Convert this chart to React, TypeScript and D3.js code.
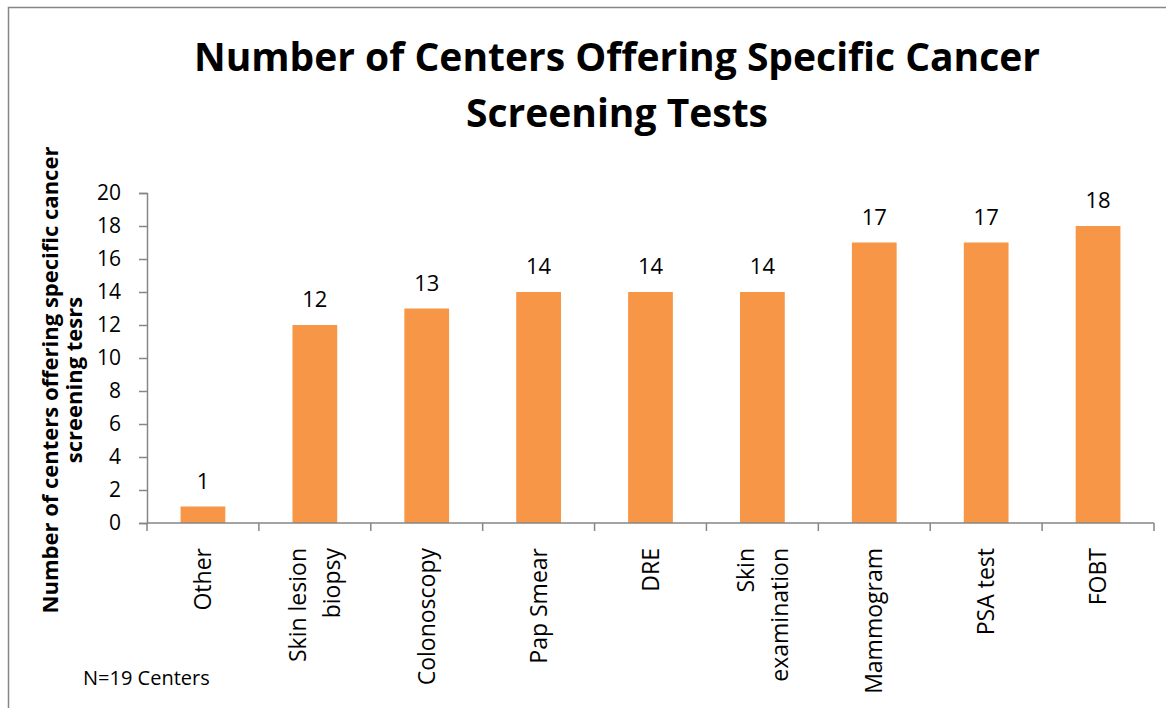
import { useEffect, useRef } from 'react'
import * as d3 from 'd3'

const categories = [
  'Other',
  'Skin lesion biopsy',
  'Colonoscopy',
  'Pap Smear',
  'DRE',
  'Skin examination',
  'Mammogram',
  'PSA test',
  'FOBT',
]
// how the category names wrap under the axis
const categoryLines = [
  ['Other'],
  ['Skin lesion', 'biopsy'],
  ['Colonoscopy'],
  ['Pap Smear'],
  ['DRE'],
  ['Skin', 'examination'],
  ['Mammogram'],
  ['PSA test'],
  ['FOBT'],
]
const centerCounts = [1, 12, 13, 14, 14, 14, 17, 17, 18]
const yTickValues = [0, 2, 4, 6, 8, 10, 12, 14, 16, 18, 20]

const titleLines = ['Number of Centers Offering Specific Cancer', 'Screening Tests']
const yTitleLines = ['Number of centers offering specific cancer', 'screening tesrs']
const noteText = 'N=19 Centers'

const WIDTH = 1166
const HEIGHT = 708
const FONT = "'Open Sans', 'DejaVu Sans', sans-serif"

export default function App() {
  const svgRef = useRef<SVGSVGElement>(null)

  useEffect(() => {
    if (!svgRef.current) return
    const svg = d3.select(svgRef.current)
    svg.selectAll('*').remove()

    const plot = { left: 147, right: 1154, top: 193, bottom: 523 }
    const axisColor = '#868686'

    // chart frame
    svg.append('rect')
      .attr('x', 8.5)
      .attr('y', 7.5)
      .attr('width', WIDTH)
      .attr('height', HEIGHT)
      .attr('fill', 'white')
      .attr('stroke', axisColor)
      .attr('stroke-width', 1.5)

    const xScale = d3.scaleBand<string>()
      .domain(categories)
      .range([plot.left, plot.right])
      .paddingInner(0.6)
      .paddingOuter(0.3)

    const yScale = d3.scaleLinear()
      .domain([0, 20])
      .range([plot.bottom, plot.top])

    // title
    svg.append('text')
      .attr('x', 617)
      .attr('y', 71)
      .attr('text-anchor', 'middle')
      .attr('font-family', FONT)
      .attr('font-weight', 700)
      .attr('font-size', 39)
      .attr('fill', '#000')
      .selectAll('tspan')
      .data(titleLines)
      .join('tspan')
      .attr('x', 617)
      .attr('dy', (_, i) => (i === 0 ? 0 : 56))
      .text(d => d)

    // bars
    svg.append('g')
      .selectAll('rect')
      .data(categories)
      .join('rect')
      .attr('x', d => xScale(d)!)
      .attr('y', (_, i) => yScale(centerCounts[i]))
      .attr('width', xScale.bandwidth())
      .attr('height', (_, i) => yScale(0) - yScale(centerCounts[i]))
      .attr('fill', '#F79646')

    // value labels
    svg.append('g')
      .selectAll('text')
      .data(categories)
      .join('text')
      .attr('x', d => xScale(d)! + xScale.bandwidth() / 2)
      .attr('y', (_, i) => yScale(centerCounts[i]) - 18)
      .attr('text-anchor', 'middle')
      .attr('font-family', FONT)
      .attr('font-size', 22)
      .attr('fill', '#000')
      .text((_, i) => String(centerCounts[i]))

    // y axis
    const yAxis = d3.axisLeft(yScale)
      .tickValues(yTickValues)
      .tickSize(8)
      .tickSizeOuter(8)
      .tickPadding(18)
    const yAxisG = svg.append('g')
      .attr('transform', `translate(${plot.left},0)`)
      .call(yAxis)
    yAxisG.selectAll('path, line').attr('stroke', axisColor).attr('stroke-width', 1.5)
    yAxisG.selectAll('text')
      .attr('font-family', FONT)
      .attr('font-size', 21)
      .attr('fill', '#000')

    // x axis line and category boundary ticks
    const step = xScale.step()
    const firstEdge = xScale(categories[0])! - step * 0.3
    const edges = d3.range(categories.length + 1).map(i => firstEdge + i * step)
    const xAxisG = svg.append('g')
    xAxisG.append('line')
      .attr('x1', plot.left)
      .attr('x2', plot.right)
      .attr('y1', plot.bottom)
      .attr('y2', plot.bottom)
      .attr('stroke', axisColor)
      .attr('stroke-width', 1.5)
    xAxisG.selectAll('line.tick')
      .data(edges)
      .join('line')
      .attr('class', 'tick')
      .attr('x1', d => d)
      .attr('x2', d => d)
      .attr('y1', plot.bottom)
      .attr('y2', plot.bottom + 8)
      .attr('stroke', axisColor)
      .attr('stroke-width', 1.5)

    // rotated category labels
    const labelSize = 23
    const lineGap = 34
    const capHalf = labelSize * 0.714 / 2
    const labelG = svg.append('g')
      .attr('font-family', FONT)
      .attr('font-size', labelSize)
      .attr('fill', '#000')
    categories.forEach((cat, i) => {
      const lines = categoryLines[i]
      const cx = xScale(cat)! + xScale.bandwidth() / 2
      lines.forEach((line, j) => {
        const offset = (j - (lines.length - 1) / 2) * lineGap + capHalf
        labelG.append('text')
          .attr('transform', `translate(${cx + offset},548) rotate(-90)`)
          .attr('text-anchor', 'end')
          .text(line)
      })
    })

    // y axis title
    const yTitle = svg.append('text')
      .attr('transform', 'translate(58,380) rotate(-90)')
      .attr('text-anchor', 'middle')
      .attr('font-family', FONT)
      .attr('font-weight', 700)
      .attr('font-size', 22)
      .attr('fill', '#000')
    yTitle.selectAll('tspan')
      .data(yTitleLines)
      .join('tspan')
      .attr('x', 0)
      .attr('dy', (_, i) => (i === 0 ? 0 : 24))
      .text(d => d)

    // footnote
    svg.append('text')
      .attr('x', 83)
      .attr('y', 685)
      .attr('font-family', FONT)
      .attr('font-size', 20)
      .attr('fill', '#000')
      .text(noteText)
  }, [])

  return (
    <svg
      ref={svgRef}
      width={WIDTH}
      height={HEIGHT}
      style={{ position: 'absolute', left: 0, top: 0, display: 'block', background: 'white' }}
    />
  )
}
